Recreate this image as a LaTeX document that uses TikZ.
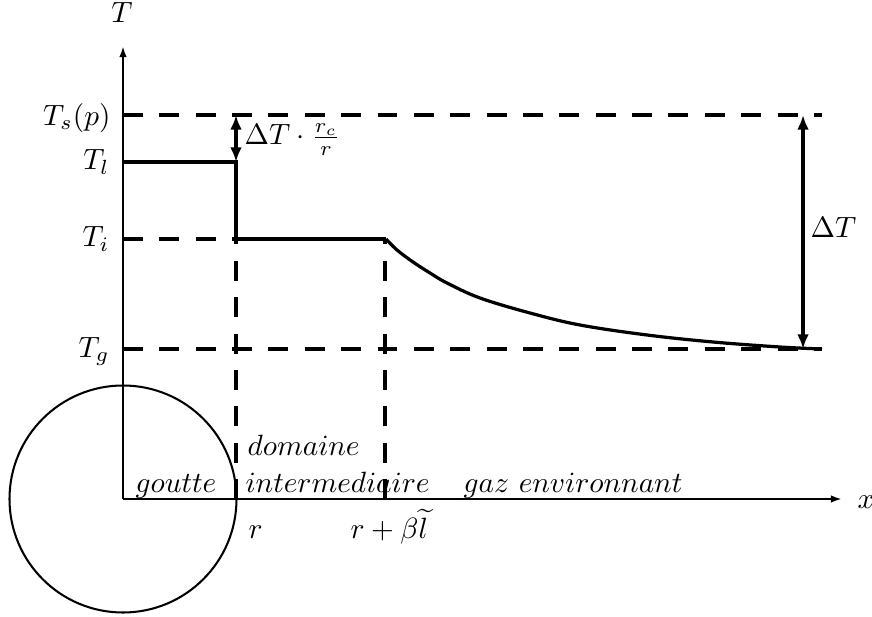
\documentclass[tikz,border=0pt]{standalone}
\usetikzlibrary{arrows.meta}
\begin{document}
\begin{tikzpicture}[x=0.341pt,y=-0.341pt,
  thickline/.style={line width=1.1pt},
  axisline/.style={line width=0.9pt,-{Latex[length=3.8pt,width=2.6pt]}},
  dashline/.style={line width=1.1pt,dash pattern=on 6.8pt off 5.6pt},
  dimarrow/.style={line width=1.1pt,{Latex[length=5pt,width=4pt]}-{Latex[length=5pt,width=4pt]}},
  lab/.style={inner sep=0pt}]
\useasboundingbox (0,0) rectangle (872,617);
% key points
\coordinate (O) at (123,499);
\coordinate (Ytip) at (123,46);
\coordinate (Xtip) at (842,499);
\coordinate (TsL) at (123,115);
\coordinate (TsR) at (822,115);
\coordinate (TlL) at (123,162);
\coordinate (TlR) at (236,162);
\coordinate (TiL) at (123,239);
\coordinate (TiM) at (236,239);
\coordinate (TiR) at (386,239);
\coordinate (TgL) at (123,349);
\coordinate (TgR) at (822,349);
\coordinate (Rb) at (236,499);
\coordinate (Bb) at (385,499);
\coordinate (Bt) at (385,239);
\coordinate (A1t) at (236,115);
\coordinate (A2t) at (803,115);
\coordinate (A2b) at (803,349);
% circle (goutte)
\draw[line width=0.7pt] (O) circle[radius=113.5];
% axes
\draw[axisline] (O) -- (Ytip);
\draw[axisline] (O) -- (Xtip);
% dashed reference lines
\draw[dashline] (TsL) -- (TsR);
\draw[dashline] (TiL) -- (TiM);
\draw[dashline] (TgL) -- (TgR);
\draw[dashline] (Rb) -- (TiM);
\draw[dashline] (Bb) -- (Bt);
% temperature profile
\draw[thickline] (TlL) -- (TlR) -- (TiM) -- (TiR);
\draw[thickline] plot[smooth,tension=0.6] coordinates {(386,239) (397,250) (413,262) (430,273) (447,283) (480,298) (530,313) (580,325) (647,335) (713,342) (780,347) (822,349)};
% dimension arrows
\draw[dimarrow] (A1t) -- (TlR);
\draw[dimarrow] (A2t) -- (A2b);
% labels
\node[lab,anchor=base] (Tlab) at (122,23) {$T$};
\node[lab,anchor=east] (Tslab) at (111,118) {$T_s(p)$};
\node[lab,anchor=base east] (Tllab) at (110,170) {$T_l$};
\node[lab,anchor=base east] (Tilab) at (110,247) {$T_i$};
\node[lab,anchor=base east] (Tglab) at (110,357) {$T_g$};
\node[lab,anchor=base west] (dTr) at (244,145) {$\Delta T\cdot\frac{r_c}{r}$};
\node[lab,anchor=base west] (dT) at (810,238) {$\Delta T$};
\node[lab,anchor=base west] (xlab) at (857,508) {$x$};
\node[lab,anchor=base west] (goutte) at (135,492) {$goutte$};
\node[lab,anchor=base west] (domaine) at (247,455) {$domaine$};
\node[lab,anchor=base west] (interm) at (245,492) {$intermediaire$};
\node[lab,anchor=base west] (gaz) at (463,492) {$gaz\ environnant$};
\node[lab,anchor=base west] (rlab) at (248,538) {$r$};
\node[lab,anchor=base west] (rbl) at (350,538) {$r+\beta\widetilde{l}$};
\end{tikzpicture}
\end{document}
